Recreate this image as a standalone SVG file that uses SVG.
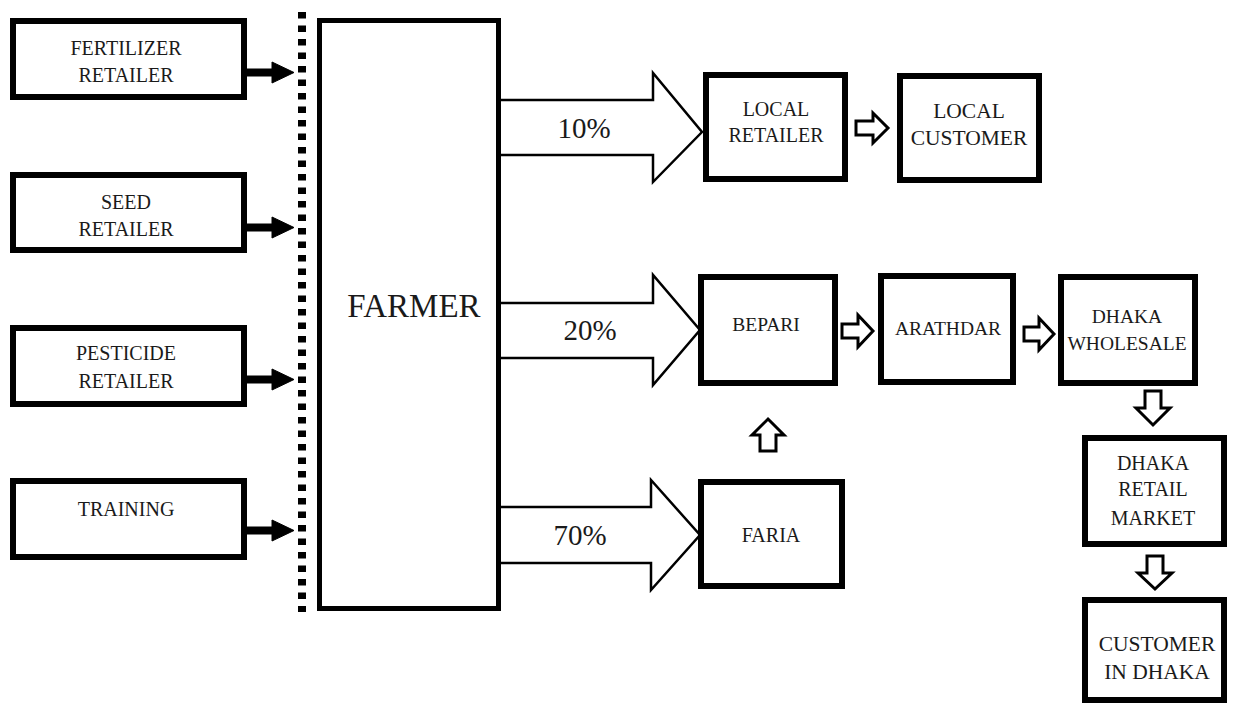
<svg xmlns="http://www.w3.org/2000/svg" width="1234" height="705" viewBox="0 0 1234 705">
<style>
  .box { fill: #ffffff; stroke: #000; stroke-width: 6; }
  .farmer { fill: #ffffff; stroke: #000; stroke-width: 5; }
  .t { font-family: "Liberation Serif", "Times New Roman", serif; font-size: 20px; fill: #1a1a1a; text-anchor: middle; }
  .s { font-size: 19.5px; }
  .l { font-size: 21.5px; }
  .pct { font-family: "Liberation Serif", "Times New Roman", serif; font-size: 29px; fill: #1a1a1a; text-anchor: middle; }
  .big { fill: #ffffff; stroke: #000; stroke-width: 2.5; stroke-linejoin: miter; }
  .hollow { fill: #ffffff; stroke: #000; stroke-width: 3; stroke-linejoin: miter; }
  .solid { fill: #000; stroke: #000; stroke-width: 1; }
</style>
<rect width="1234" height="705" fill="#ffffff"/>

<g id="connectors">
  <!-- input arrows to dotted line -->
  <g>
    <rect x="246" y="69" width="28" height="7" class="solid"/>
    <polygon points="272,62 294,72.5 272,83" class="solid"/>
    <rect x="246" y="224" width="28" height="7" class="solid"/>
    <polygon points="272,217 294,227.5 272,238" class="solid"/>
    <rect x="246" y="376" width="28" height="7" class="solid"/>
    <polygon points="272,369 294,379.5 272,390" class="solid"/>
    <rect x="246" y="527" width="28" height="7" class="solid"/>
    <polygon points="272,520 294,530.5 272,541" class="solid"/>
  </g>
  <!-- dotted boundary -->
  <line x1="302" y1="12" x2="302" y2="612" stroke="#000" stroke-width="8" stroke-dasharray="6.5 7"/>
  <!-- big percentage arrows -->
  <path class="big" d="M500,100 H653 V73 L702,132 L653,182 V155 H500"/>
  <path class="big" d="M500,303 H653 V275 L700,330 L653,385 V358 H500"/>
  <path class="big" d="M500,507 H651 V480 L700,535 L651,590 V563 H500"/>
  <!-- small hollow arrows -->
  <polygon class="hollow" points="856,121 873,121 873,113 888,128 873,143 873,135 856,135"/>
  <polygon class="hollow" points="842,324 858,324 858,315 873,331 858,347 858,338 842,338"/>
  <polygon class="hollow" points="1024,327 1039,327 1039,318 1054,334 1039,350 1039,341 1024,341"/>
  <polygon class="hollow" points="1145,391 1161,391 1161,408 1170,408 1153,425 1136,408 1145,408"/>
  <polygon class="hollow" points="1147,556 1163,556 1163,573 1172,573 1155,589 1138,573 1147,573"/>
  <polygon class="hollow" points="768,419 784,435 776,435 776,451 760,451 760,435 752,435"/>
</g>

<g id="pct-labels">
  <text class="pct" x="584" y="138">10%</text>
  <text class="pct" x="590" y="340">20%</text>
  <text class="pct" x="580" y="545">70%</text>
</g>

<g id="fertilizer-retailer">
  <rect class="box" x="13" y="21" width="231" height="76"/>
  <text class="t" x="126" y="55">FERTILIZER</text>
  <text class="t" x="126" y="82">RETAILER</text>
</g>
<g id="seed-retailer">
  <rect class="box" x="13" y="175" width="231" height="75"/>
  <text class="t" x="126" y="209">SEED</text>
  <text class="t" x="126" y="236">RETAILER</text>
</g>
<g id="pesticide-retailer">
  <rect class="box" x="13" y="328" width="231" height="76"/>
  <text class="t" x="126" y="360">PESTICIDE</text>
  <text class="t" x="126" y="388">RETAILER</text>
</g>
<g id="training">
  <rect class="box" x="13" y="481" width="231" height="76"/>
  <text class="t" x="126" y="516">TRAINING</text>
</g>

<g id="farmer">
  <rect class="farmer" x="319.5" y="20.5" width="179" height="588"/>
  <text class="t" style="font-size:33px" x="414" y="317">FARMER</text>
</g>

<g id="local-retailer">
  <rect class="box" x="706" y="75" width="139" height="104"/>
  <text class="t" x="776" y="116">LOCAL</text>
  <text class="t" x="776" y="142">RETAILER</text>
</g>
<g id="local-customer">
  <rect class="box" x="900" y="76" width="139" height="104"/>
  <text class="t l" x="969" y="118">LOCAL</text>
  <text class="t l" x="969" y="145">CUSTOMER</text>
</g>
<g id="bepari">
  <rect class="box" x="701" y="277" width="134" height="106"/>
  <text class="t s" x="766" y="331">BEPARI</text>
</g>
<g id="arathdar">
  <rect class="box" x="881" y="276" width="132" height="106"/>
  <text class="t s" x="948" y="335">ARATHDAR</text>
</g>
<g id="dhaka-wholesale">
  <rect class="box" x="1061" y="277" width="134" height="106"/>
  <text class="t s" x="1127" y="323">DHAKA</text>
  <text class="t s" x="1127" y="350">WHOLESALE</text>
</g>
<g id="dhaka-retail-market">
  <rect class="box" x="1085" y="438" width="139" height="106"/>
  <text class="t" x="1153" y="470">DHAKA</text>
  <text class="t" x="1153" y="496">RETAIL</text>
  <text class="t" x="1153" y="525">MARKET</text>
</g>
<g id="customer-in-dhaka">
  <rect class="box" x="1085" y="600" width="139" height="100"/>
  <text class="t l" x="1157" y="651">CUSTOMER</text>
  <text class="t l" x="1157" y="679">IN DHAKA</text>
</g>
<g id="faria">
  <rect class="box" x="701" y="482" width="141" height="104"/>
  <text class="t" x="771" y="542">FARIA</text>
</g>
</svg>
